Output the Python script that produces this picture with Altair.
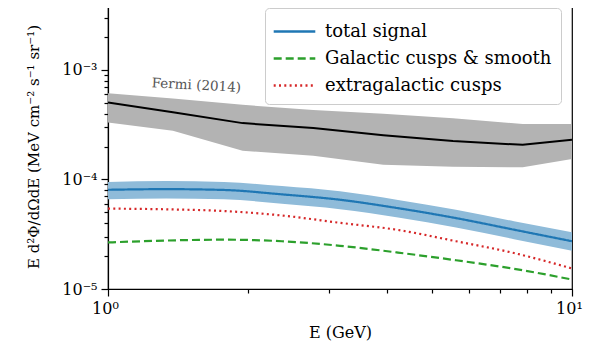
import altair as alt
import pandas as pd

# ---- model curves (GeV, MeV cm^-2 s^-1 sr^-1) ----
E_model = [1.0, 1.334, 1.778, 2.371, 3.162, 4.217, 5.623, 7.499, 10.0]
total = [8.05e-5, 8.16e-5, 8.02e-5, 7.31e-5, 6.53e-5, 5.47e-5, 4.44e-5, 3.48e-5, 2.73e-5]
total_hi = [9.5e-5, 9.7e-5, 9.5e-5, 8.7e-5, 7.8e-5, 6.5e-5, 5.3e-5, 4.15e-5, 3.3e-5]
total_lo = [6.6e-5, 6.7e-5, 6.6e-5, 6.0e-5, 5.35e-5, 4.5e-5, 3.65e-5, 2.85e-5, 2.23e-5]
galactic = [2.66e-5, 2.77e-5, 2.82e-5, 2.73e-5, 2.48e-5, 2.15e-5, 1.83e-5, 1.53e-5, 1.22e-5]
extragal = [5.42e-5, 5.34e-5, 5.15e-5, 4.69e-5, 4.02e-5, 3.46e-5, 2.73e-5, 2.13e-5, 1.54e-5]

series_names = ["total signal", "Galactic cusps & smooth", "extragalactic cusps"]
series_colors = ["#1f77b4", "#2ca02c", "#d62728"]
series_dash = [[1, 0], [8, 4], [2, 3.3]]

# ---- Fermi (2014) IGRB band ----
E_fermi = [1.0, 1.38, 1.95, 2.77, 3.92, 5.54, 7.83, 10.0]
fermi_mid = [5.05e-4, 4.1e-4, 3.27e-4, 2.95e-4, 2.54e-4, 2.24e-4, 2.07e-4, 2.30e-4]
fermi_hi = [6.14e-4, 5.48e-4, 4.8e-4, 4.3e-4, 3.98e-4, 3.62e-4, 3.21e-4, 3.21e-4]
fermi_lo = [3.32e-4, 2.79e-4, 1.83e-4, 1.65e-4, 1.36e-4, 1.31e-4, 1.29e-4, 1.54e-4]

x_ticks = [1, 2, 3, 4, 5, 6, 7, 8, 9, 10]
y_ticks = [1e-5, 2e-5, 3e-5, 4e-5, 5e-5, 6e-5, 7e-5, 8e-5, 9e-5,
           1e-4, 2e-4, 3e-4, 4e-4, 5e-4, 6e-4, 7e-4, 8e-4, 9e-4,
           1e-3, 2e-3, 3e-3, 4e-3]

FONT = "DejaVu Serif"

lines_df = pd.DataFrame({
    "E": E_model * 3,
    "flux": total + galactic + extragal,
    "series": [series_names[0]] * len(E_model) + [series_names[1]] * len(E_model) + [series_names[2]] * len(E_model),
})
band_df = pd.DataFrame({"E": E_model, "lo": total_lo, "hi": total_hi})
fermi_df = pd.DataFrame({"E": E_fermi, "mid": fermi_mid, "lo": fermi_lo, "hi": fermi_hi})
label_df = pd.DataFrame({"E": [1.55], "flux": [7.2e-4], "text": ["Fermi (2014)"]})

xs = alt.Scale(type="log", domain=[1, 10], nice=False)
ys = alt.Scale(type="log", domain=[1e-5, 4e-3], nice=False)

IS_MAJOR = "abs(log(datum.value)/LN10 - round(log(datum.value)/LN10)) < 0.001"

x_axis = alt.Axis(
    orient="bottom", values=x_ticks,
    tickSize={"condition": {"test": IS_MAJOR, "value": 7}, "value": 4},
    tickWidth=1.2, tickColor="#000000", ticks=True,
    domainColor="black", domainWidth=1.2, grid=False, labelFlush=False, labelOverlap=False,
    labelExpr="datum.value == 1 ? '10⁰' : (datum.value == 10 ? '10¹' : '')",
    labelFont=FONT, labelFontSize=16, labelColor="black", labelPadding=4, labelOffset=-3,
    title="E (GeV)", titleFont=FONT, titleFontSize=16, titleFontWeight="normal",
    titleColor="black", titlePadding=8,
)
y_axis = alt.Axis(
    orient="left", values=y_ticks,
    tickSize={"condition": {"test": IS_MAJOR, "value": 7}, "value": 4},
    tickWidth=1.2, tickColor="#000000", ticks=True,
    domainColor="black", domainWidth=1.2, grid=False, labelFlush=False, labelOverlap=False,
    labelExpr="datum.value == 1e-5 ? '10⁻⁵' : (datum.value == 1e-4 ? '10⁻⁴' : (datum.value == 1e-3 ? '10⁻³' : ''))",
    labelFont=FONT, labelFontSize=16, labelColor="black", labelPadding=4,
    title="E d²Φ/dΩdE  (MeV cm⁻² s⁻¹ sr⁻¹)", titleFont=FONT, titleFontSize=15,
    titleFontWeight="normal", titleColor="black", titlePadding=20,
)

fermi_band = alt.Chart(fermi_df).mark_area(color="#b3b3b3", clip=True).encode(
    x=alt.X("E:Q", scale=xs, axis=x_axis),
    y=alt.Y("lo:Q", scale=ys, axis=y_axis),
    y2="hi:Q",
)
fermi_line = alt.Chart(fermi_df).mark_line(color="black", strokeWidth=2, clip=True).encode(
    x=alt.X("E:Q", scale=xs),
    y=alt.Y("mid:Q", scale=ys),
)
fermi_text = alt.Chart(label_df).mark_text(
    font=FONT, fontSize=13.5, color="#555555", angle=3
).encode(
    x=alt.X("E:Q", scale=xs),
    y=alt.Y("flux:Q", scale=ys),
    text="text:N",
)
total_band = alt.Chart(band_df).mark_area(color="#8fbbd9", interpolate="monotone", clip=True).encode(
    x=alt.X("E:Q", scale=xs),
    y=alt.Y("lo:Q", scale=ys),
    y2="hi:Q",
)
leg = alt.Legend(orient="none", legendX=157, legendY=4, title=None)
model_lines = alt.Chart(lines_df).mark_line(strokeWidth=2.2, interpolate="monotone", clip=True).encode(
    x=alt.X("E:Q", scale=xs),
    y=alt.Y("flux:Q", scale=ys),
    color=alt.Color("series:N", scale=alt.Scale(domain=series_names, range=series_colors),
                    sort=series_names, legend=leg),
    strokeDash=alt.StrokeDash("series:N", scale=alt.Scale(domain=series_names, range=series_dash),
                              sort=series_names, legend=leg),
)

chart = alt.layer(
    fermi_band, fermi_line, fermi_text, total_band, model_lines
).properties(
    width=464, height=285,
    autosize=alt.AutoSizeParams(type="none"),
    padding={"left": 100, "top": -4, "right": 11, "bottom": 64},
).configure_view(
    stroke="black", strokeWidth=1.2
).configure_legend(
    labelFont=FONT, labelFontSize=18, labelColor="black", labelLimit=400,
    symbolType="M-1.6,0H1.6", symbolSize=676, symbolStrokeWidth=2.5,
    strokeColor="#cccccc", fillColor="white", cornerRadius=4,
    padding=9, rowPadding=3, labelOffset=16, symbolOffset=6,
)

chart.save("out.html", embed_options={"renderer": "svg", "actions": False})
